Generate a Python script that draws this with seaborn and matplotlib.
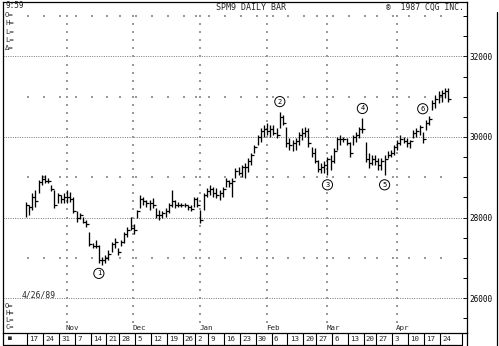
import numpy as np
import pandas as pd
import matplotlib
matplotlib.use("Agg")
import matplotlib.pyplot as plt
import seaborn as sns
from matplotlib.transforms import blended_transform_factory

# ---------------- data ----------------
highs = [
    28390, 28310, 28600, 28680, 28930, 29060, 29060, 28970, 28800, 28680,
    28600, 28560, 28600, 28680, 28640, 28520, 28150, 28100, 28020, 27940,
    27650, 27360, 27440, 27320, 27030, 27070, 27190, 27400, 27480, 27240,
    27440, 27650, 27770, 28010, 27850, 28190, 28560, 28520, 28440, 28440,
    28480, 28230, 28190, 28150, 28230, 28350, 28680, 28440, 28390, 28350,
    28350, 28310, 28310, 28520, 28520, 28190, 28600, 28730, 28810, 28770,
    28730, 28680, 28770, 28970, 28930, 28970, 29220, 29260, 29300, 29350,
    29470, 29590, 29800, 30050, 30220, 30300, 30340, 30300, 30300, 30220,
    30630, 30550, 30260, 29970, 29930, 29970, 30130, 30220, 30260, 30220,
    29760, 29720, 29430, 29350, 29400, 29510, 29550, 29720, 30010, 30050,
    30010, 29970, 29880, 30050, 30130, 30260, 30460, 29880, 29590, 29550,
    29550, 29470, 29470, 29550, 29640, 29680, 29800, 29930, 30050, 30010,
    29970, 29930, 30170, 30220, 30300, 30130, 30420, 30510, 30920, 31040,
    31130, 31170, 31210, 31210]
lows = [
    28020, 28060, 28190, 28260, 28600, 28810, 28850, 28850, 28650, 28230,
    28350, 28350, 28350, 28350, 28390, 28100, 27900, 27960, 27860, 27770,
    27280, 27240, 27240, 26860, 26820, 26880, 26950, 27150, 27240, 27070,
    27280, 27360, 27520, 27690, 27600, 27980, 28240, 28310, 28270, 28190,
    28230, 27980, 27940, 27980, 28020, 28100, 28270, 28230, 28270, 28270,
    28270, 28190, 28150, 28270, 28270, 27860, 28190, 28520, 28560, 28520,
    28480, 28440, 28520, 28770, 28770, 28520, 28970, 29060, 29000, 28970,
    29140, 29300, 29590, 29800, 29880, 30010, 30050, 30010, 30050, 29970,
    30220, 30300, 29760, 29680, 29640, 29680, 29800, 29930, 30010, 29760,
    29510, 29350, 29140, 29100, 29100, 29060, 29180, 29350, 29680, 29800,
    29880, 29800, 29510, 29800, 29880, 29970, 30090, 29390, 29220, 29300,
    29300, 29180, 29180, 29060, 29470, 29510, 29550, 29680, 29800, 29840,
    29760, 29720, 29970, 30010, 30050, 29840, 30170, 30300, 30670, 30710,
    30840, 30880, 30960, 30880]
closes = [
    28300, 28250, 28500, 28400, 28880, 28950, 28900, 28900, 28700, 28300,
    28550, 28450, 28500, 28500, 28450, 28150, 28000, 28050, 27900, 27850,
    27350, 27300, 27300, 26950, 26950, 27000, 27100, 27350, 27400, 27150,
    27400, 27600, 27700, 27750, 27700, 28150, 28450, 28400, 28350, 28350,
    28300, 28050, 28050, 28100, 28150, 28300, 28400, 28300, 28320, 28300,
    28300, 28250, 28200, 28450, 28300, 27950, 28550, 28650, 28700, 28600,
    28550, 28600, 28700, 28900, 28850, 28900, 29150, 29100, 29250, 29250,
    29400, 29550, 29750, 30000, 30150, 30200, 30150, 30200, 30100, 30050,
    30500, 30350, 29850, 29800, 29850, 29900, 30050, 30100, 30150, 29850,
    29600, 29400, 29200, 29250, 29300, 29450, 29400, 29650, 29950, 29950,
    29950, 29850, 29600, 30000, 30050, 30200, 30200, 29450, 29350, 29450,
    29400, 29300, 29400, 29450, 29550, 29600, 29750, 29850, 29950, 29900,
    29850, 29900, 30100, 30150, 30250, 29950, 30350, 30450, 30850, 30950,
    31050, 31100, 31150, 30950]

first_day = "1988-10-14"
last_day = "1989-04-26"
holidays = ["1988-11-24", "1988-12-26", "1989-01-02", "1989-02-20", "1989-03-24"]

price_labels = [26000, 28000, 30000, 32000]
title_left = "9:59"
title_mid = "SPM9 DAILY BAR"
title_right = "\u00ae  1987 CQG INC."
top_fields = ["O=", "H=", "L=", "L=", "\u0394="]
bottom_fields = ["O=", "H=", "L=", "C="]
date_stamp = "4/26/89"

wave_labels = ["1", "2", "3", "4", "5", "6"]
wave_dates = ["1988-11-16", "1989-02-08", "1989-03-02", "1989-03-17", "1989-03-29", "1989-04-14"]
wave_side = ["low", "high", "low", "high", "low", "high"]

# ---------------- frame ----------------
dates = pd.bdate_range(first_day, last_day)
dates = dates[~dates.isin(pd.to_datetime(holidays))]
df = pd.DataFrame({"date": dates, "high": highs, "low": lows, "close": closes})
df["pos"] = np.arange(len(df))

sns.set_theme(style="white")
plt.rcParams["font.family"] = ["DejaVu Sans Mono", "DejaVu Sans"]

W, H = 499, 346
fig = plt.figure(figsize=(W / 100, H / 100), dpi=100)
ax = fig.add_axes([3 / W, 13 / H, 464 / W, 331 / H])
ax.set_xlim(-7.19, 138.95)
ax.set_ylim(25131, 33353)

# grid: month columns, odd thousand weekly dots, even thousand dotted lines
first_of_week = df.groupby(df["date"].dt.to_period("W"))["pos"].min()
week_pos = first_of_week.values[1:]
week_lab = [str(p.start_time.day) for p in first_of_week.index[1:]]
month_first = df.groupby(df["date"].dt.to_period("M"))["pos"].min()
month_pos = month_first.values[1:]
month_lab = [p.strftime("%b") for p in month_first.index[1:]]

for yv in range(26000, 33001, 2000):
    ax.axhline(yv, color="0.4", lw=0.6, ls=(0, (1.2, 1.6)), zorder=1)
dot_y = np.arange(25400, 33001, 200)
for mp in month_pos:
    ax.scatter(np.full(len(dot_y), mp + 0.9), dot_y, s=0.6, marker="s",
               color="0.6", linewidths=0, zorder=1)
for yv in range(27000, 33001, 2000):
    ax.scatter(week_pos - 0.3, np.full(len(week_pos), yv), s=0.6, marker="s",
               color="0.6", linewidths=0, zorder=1)

# bars
ax.vlines(df["pos"], df["low"], df["high"], color="black", lw=0.95, zorder=3)
sns.scatterplot(data=df, x="pos", y="close", marker=1, s=5, color="black",
                linewidth=0.9, ax=ax, legend=False, zorder=3)

# wave labels
for lab, d, side in zip(wave_labels, wave_dates, wave_side):
    row = df[df["date"] == pd.Timestamp(d)].iloc[0]
    if side == "low":
        yv, dy = row["low"], -10
    else:
        yv, dy = row["high"], 10
    if lab == "6":
        dy = 23
    ax.annotate(lab, (row["pos"], yv), xytext=(0, dy), textcoords="offset pixels",
                ha="center", va="center", fontsize=5.0, color="black",
                bbox=dict(boxstyle="circle,pad=0.3", fc="white", ec="black", lw=0.7),
                zorder=5)

# axes styling
ax.set_xlabel("")
ax.set_ylabel("")
ax.set_xticks([])
ax.yaxis.tick_right()
ax.set_yticks(np.arange(25500, 33353, 500))
ax.set_yticklabels([str(v) if v in price_labels else "" for v in np.arange(25500, 33353, 500)])
ax.tick_params(axis="y", which="both", direction="in", length=3, width=0.7,
               labelsize=5.6, pad=2, colors="black", right=True, left=False)
for s in ax.spines.values():
    s.set_visible(True)
    s.set_color("black")
    s.set_linewidth(0.9)

# bottom week label row
tr = blended_transform_factory(ax.transData, ax.transAxes)
row_top, row_bot = 0.0, -12 / 331
ax.plot([ax.get_xlim()[0], 137.5], [row_bot, row_bot], transform=tr, color="black",
        lw=0.9, clip_on=False)
ax.plot([ax.get_xlim()[0], ax.get_xlim()[0]], [row_top, row_bot], transform=tr,
        color="black", lw=0.9, clip_on=False)
ax.plot([138.95, 138.95], [row_top, -13.5 / 331], transform=tr, color="black",
        lw=0.9, clip_on=False)
seps = list(week_pos - 0.6) + [137.5]
for sx in seps:
    ax.plot([sx, sx], [row_top, row_bot], transform=tr, color="black", lw=0.8, clip_on=False)
for wp, wl in zip(week_pos, week_lab):
    ax.text(wp + 0.1, row_bot / 2, wl, transform=tr, ha="left", va="center",
            fontsize=5.4, clip_on=False)
ax.text(-5.6, row_bot / 2, "\u25a0", transform=tr, ha="left", va="center",
        fontsize=4.5, clip_on=False)

for mp, ml in zip(month_pos, month_lab):
    ax.text(mp + 0.6, 5 / 331, ml, transform=tr, ha="left", va="center", fontsize=5.4)

# header and side texts (figure pixel coordinates)
def ftext(x, y, s, size=5.6, **kw):
    fig.text(x / W, 1 - y / H, s, fontsize=size, ha="left", va="center", **kw)

ftext(6, 6, title_left)
ftext(216, 7, title_mid, size=6.0)
ftext(386, 7, title_right, size=5.8)
for yy, t in zip([15, 23, 32, 40, 48], top_fields):
    ftext(5, yy, t, size=5.2)
ftext(22, 295, date_stamp, size=5.8)
for yy, t in zip([306, 313, 320, 327], bottom_fields):
    ftext(5, yy, t, size=5.0)

fig.add_artist(plt.Line2D([497 / W, 497 / W], [1 - 12 / H, 0.0], color="black", lw=0.9))

fig.savefig("out.png", dpi=100)
